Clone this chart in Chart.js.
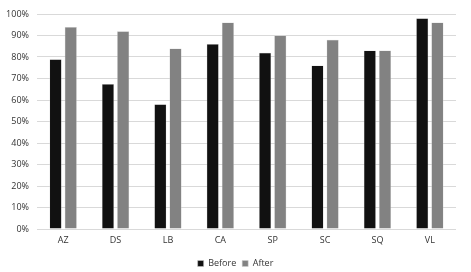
<!DOCTYPE html>
<html>
<head>
<meta charset="utf-8">
<script src="https://cdn.jsdelivr.net/npm/chart.js@4/dist/chart.umd.min.js"></script>
<style>
  html, body { margin: 0; padding: 0; background: #fff; }
  #wrap { width: 471px; height: 272px; }
</style>
</head>
<body>
<div id="wrap"><canvas id="myChart"></canvas></div>
<script>
const categories = ['AZ', 'DS', 'LB', 'CA', 'SP', 'SC', 'SQ', 'VL'];
const before = [79, 67.5, 58, 86, 82, 76, 83, 98];
const after = [94, 92, 84, 96, 90, 88, 83, 96];

const ctx = document.getElementById('myChart');

new Chart(ctx, {
  type: 'bar',
  data: {
    labels: categories,
    datasets: [
      {
        label: 'Before',
        data: before,
        backgroundColor: '#111111',
        borderColor: '#cfcfcf',
        borderWidth: 0.5,
        barPercentage: 0.8,
        categoryPercentage: 0.58
      },
      {
        label: 'After',
        data: after,
        backgroundColor: '#828282',
        borderColor: '#cfcfcf',
        borderWidth: 0.5,
        barPercentage: 0.8,
        categoryPercentage: 0.58
      }
    ]
  },
  options: {
    responsive: true,
    maintainAspectRatio: false,
    animation: false,
    layout: { padding: { top: 14, right: 0, left: 0, bottom: -6 } },
    scales: {
      y: {
        min: 0,
        max: 100,
        ticks: {
          stepSize: 10,
          color: '#333',
          padding: 8,
          font: { family: 'Open Sans', size: 9 },
          callback: v => v + '%'
        },
        border: { display: false },
        grid: { color: '#d9d9d9', lineWidth: 1, drawTicks: false },
        afterFit: s => { s.width = 37; }
      },
      // empty right axis, only keeps a margin so the legend stays centred
      yRight: {
        position: 'right',
        ticks: { display: false },
        grid: { display: false },
        border: { display: false },
        afterFit: s => { s.width = 15; }
      },
      x: {
        ticks: {
          color: '#333',
          padding: 6,
          font: { family: 'Open Sans', size: 9 }
        },
        border: { display: false },
        grid: { display: false, drawTicks: false },
        afterFit: s => { s.height = 24; }
      }
    },
    plugins: {
      legend: {
        position: 'bottom',
        labels: {
          color: '#333',
          boxWidth: 6,
          boxHeight: 6,
          padding: 6,
          font: { family: 'Open Sans', size: 9 }
        }
      },
      tooltip: { enabled: false }
    }
  }
});
</script>
</body>
</html>
